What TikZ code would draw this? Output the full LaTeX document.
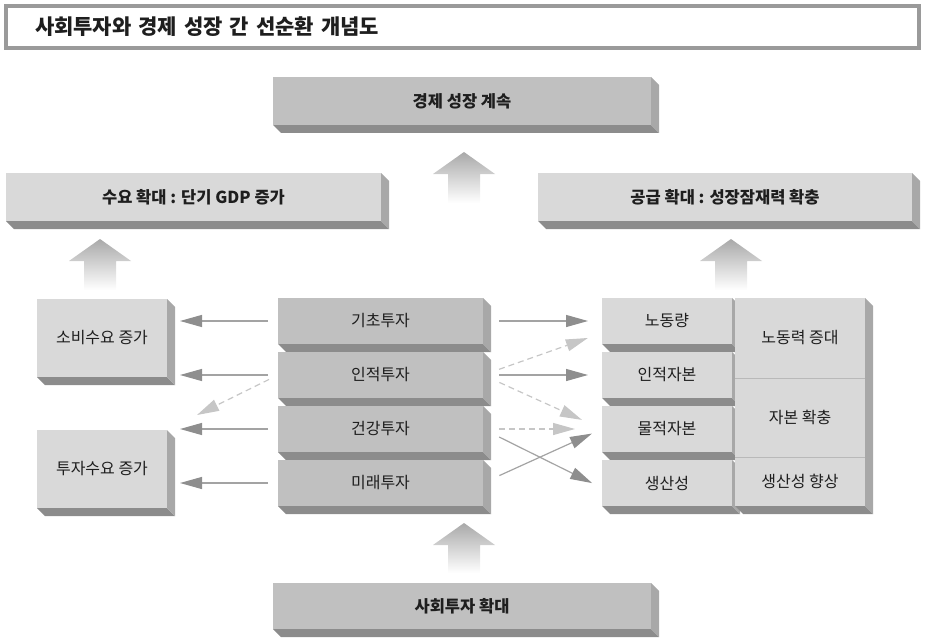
\documentclass[tikz,border=0pt]{standalone}
\usepackage{fontspec}
\setmainfont{Noto Sans CJK KR}
\usepackage{xcolor}
\usetikzlibrary{arrows.meta,positioning,calc,backgrounds}
\definecolor{framegray}{HTML}{9A9A9A}
\definecolor{slablight}{HTML}{D9D9D9}
\definecolor{slabdeep}{HTML}{C0C0C0}
\definecolor{slabbottom}{HTML}{8C8C8C}
\definecolor{slabside}{HTML}{A8A8A8}
\definecolor{linegray}{HTML}{A3A3A3}
\definecolor{headgray}{HTML}{8E8E8E}
\definecolor{dashgray}{HTML}{C6C6C6}
\definecolor{liftgray}{HTML}{A9A9A9}
\definecolor{inkgray}{HTML}{1E1E1E}
\tikzset{
  titlebar/.style={rectangle,anchor=north west,draw=framegray,line width=4pt,fill=white,
    outer sep=0pt,inner xsep=29pt,inner ysep=0pt,minimum height=42pt,text width=855pt,
    align=left,text=inkgray,font=\fontsize{21}{24}\selectfont\bfseries},
  slab/.style={rectangle,anchor=north west,fill=slablight,inner sep=0pt,outer sep=0pt,
    text=inkgray,align=center},
  deep/.style={fill=slabdeep},
  heading/.style={font=\fontsize{16.5}{19}\selectfont\bfseries},
  divider/.style={draw=slabside!80,line width=1pt},
  flow/.style={-{Triangle[length=22pt,width=12pt,fill=headgray,color=headgray]},
    draw=linegray,line width=1.2pt},
  flowdash/.style={-{Triangle[length=22pt,width=12pt,fill=dashgray,color=dashgray]},
    draw=dashgray,line width=1.2pt,dash pattern=on 6pt off 4pt},
  lift/.style={top color=liftgray,bottom color=white,draw=none}
}

\begin{document}
\begin{tikzpicture}[x=1pt,y=-1pt,node distance=8pt,font=\fontsize{16}{19}\selectfont]
  \useasboundingbox (0,0) rectangle (925,639);
  \node[titlebar] (title) at (6,6) {사회투자와 경제 성장 간 선순환 개념도};

  \node[slab,deep,heading,minimum width=378pt,minimum height=48pt] (growth) at (273,77) {경제 성장 계속};
  \node[slab,heading,minimum width=375pt,minimum height=48pt] (demand) at (6,173) {수요 확대 : 단기 GDP 증가};
  \node[slab,heading,minimum width=374pt,minimum height=48pt] (supply) at (538,173) {공급 확대 : 성장잠재력 확충};

  \node[slab,minimum width=130pt,minimum height=78pt] (consume) at (37,299) {소비수요 증가};
  \node[slab,minimum width=130pt,minimum height=78pt] (invest) at (37,430) {투자수요 증가};

  \node[slab,deep,minimum width=205pt,minimum height=46pt] (basic) at (278,298) {기초투자};
  \node[slab,deep,minimum width=205pt,minimum height=46pt,below=of basic] (human) {인적투자};
  \node[slab,deep,minimum width=205pt,minimum height=46pt,below=of human] (health) {건강투자};
  \node[slab,deep,minimum width=205pt,minimum height=46pt,below=of health] (future) {미래투자};

  \node[slab,minimum width=130pt,minimum height=46pt] (labour) at (602,298) {노동량};
  \node[slab,minimum width=130pt,minimum height=46pt,below=of labour] (hcap) {인적자본};
  \node[slab,minimum width=130pt,minimum height=46pt,below=of hcap] (pcap) {물적자본};
  \node[slab,minimum width=130pt,minimum height=46pt,below=of pcap] (prod) {생산성};

  \node[slab,minimum width=130pt,minimum height=80pt] (labourup) at (735,298) {노동력 증대};
  \node[slab,minimum width=130pt,minimum height=79pt,below=0pt of labourup] (capup) {자본 확충};
  \node[slab,minimum width=130pt,minimum height=49pt,below=0pt of capup] (produp) {생산성 향상};
  \draw[divider] (labourup.south west) -- (labourup.south east);
  \draw[divider] (capup.south west) -- (capup.south east);

  \node[slab,deep,heading,minimum width=378pt,minimum height=46pt] (expand) at (273,583) {사회투자 확대};

  \begin{scope}[on background layer]
    \foreach \hi/\lo in {growth/growth,demand/demand,supply/supply,consume/consume,invest/invest,
        basic/basic,human/human,health/health,future/future,labour/labour,hcap/hcap,
        pcap/pcap,prod/prod,labourup/produp,expand/expand} {
      \fill[slabbottom] (\lo.south west) -- ++(8,8) -- ($(\lo.south east)+(8,8)$) -- (\lo.south east) -- cycle;
      \fill[slabside] (\hi.north east) -- ++(8,8) -- ($(\lo.south east)+(8,8)$) -- (\lo.south east) -- cycle;
    }
  \end{scope}

  \foreach \cx/\ty/\by in {464/152/203,100/239/290,731/239/290,464/523/573}
    \shade[lift] (\cx,\ty) -- (\cx+31,\ty+22) -- (\cx+16,\ty+22) -- (\cx+16,\by)
      -- (\cx-16,\by) -- (\cx-16,\ty+22) -- (\cx-31,\ty+22) -- cycle;

  \coordinate (midgap) at (197,415);
  \draw[flow,shorten <=10pt,shorten >=13pt] (basic.west) -- (basic.west -| consume.east);
  \draw[flow,shorten <=10pt,shorten >=13pt] (human.west) -- (human.west -| consume.east);
  \draw[flowdash,shorten <=10pt] (human.west) -- (midgap);
  \draw[flow,shorten <=10pt,shorten >=13pt] (health.west) -- (health.west -| invest.east);
  \draw[flow,shorten <=10pt,shorten >=13pt] (future.west) -- (future.west -| invest.east);

  \draw[flow,shorten <=16pt,shorten >=14pt] (basic.east) -- (labour.west);
  \draw[flowdash,shorten <=17pt,shorten >=15pt] (human.east) -- ($(labour.west)+(0,12)$);
  \draw[flow,shorten <=16pt,shorten >=14pt] (human.east) -- (hcap.west);
  \draw[flowdash,shorten <=18pt,shorten >=22pt] (human.east) -- (pcap.west);
  \draw[flowdash,shorten <=16pt,shorten >=27pt] (health.east) -- (pcap.west);
  \draw[flow,shorten <=18pt,shorten >=11pt] (health.east) -- ($(prod.west)+(0,5)$);
  \draw[flow,shorten <=18pt,shorten >=11pt] (future.east) -- (pcap.west);
\end{tikzpicture}
\end{document}
